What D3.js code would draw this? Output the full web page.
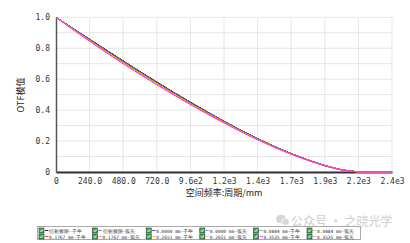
<!DOCTYPE html>
<html><head><meta charset="utf-8">
<script src="https://d3js.org/d3.v7.min.js"></script>
<style>body{margin:0;background:#fff}svg{display:block}</style>
</head><body>
<script>
const freqs = [0,120,240,360,480,600,720,840,960,1080,1200,1320,1440,1560,1680,1800,1920,2040,2160,2280,2400];
const diffT = [1,.929,.858,.788,.718,.649,.582,.515,.451,.389,.328,.270,.216,.165,.119,.078,.042,.014,0,0,0];
const diffS = [1,.929,.858,.788,.718,.649,.582,.515,.451,.389,.328,.270,.216,.165,.119,.078,.042,.014,0,0,0];
const f1T = [1,.928,.857,.786,.716,.647,.580,.513,.449,.387,.327,.269,.215,.165,.118,.077,.041,.014,0,0,0];
const f1S = [1,.928,.857,.786,.716,.647,.580,.513,.449,.387,.327,.269,.215,.165,.118,.077,.041,.014,0,0,0];
const f2T = [1,.927,.855,.784,.714,.645,.578,.511,.447,.385,.325,.268,.214,.164,.118,.077,.041,.014,0,0,0];
const f2S = [1,.927,.856,.785,.715,.646,.579,.512,.448,.386,.326,.268,.214,.164,.118,.077,.041,.014,0,0,0];
const f3T = [1,.926,.853,.781,.711,.642,.575,.509,.445,.383,.323,.266,.213,.163,.117,.076,.041,.014,0,0,0];
const f3S = [1,.926,.854,.782,.712,.643,.576,.510,.446,.384,.324,.267,.213,.163,.117,.076,.041,.014,0,0,0];
const f4T = [1,.924,.850,.777,.707,.638,.571,.505,.441,.380,.321,.264,.211,.161,.116,.076,.040,.013,0,0,0];
const f4S = [1,.925,.851,.779,.709,.640,.573,.507,.443,.382,.322,.265,.212,.162,.116,.076,.040,.013,0,0,0];
const f5T = [1,.921,.845,.771,.700,.631,.564,.499,.436,.375,.317,.261,.208,.159,.115,.075,.040,.013,0,0,0];
const f5S = [1,.922,.847,.773,.702,.633,.566,.501,.438,.377,.318,.262,.209,.160,.115,.075,.040,.013,0,0,0];
const legendLabels = ["衍射极限-子午","衍射极限-弧矢","0.0000 mm-子午","0.0000 mm-弧矢","0.0884 mm-子午","0.0884 mm-弧矢",
  "0.1767 mm-子午","0.1767 mm-弧矢","0.2651 mm-子午","0.2651 mm-弧矢","0.3535 mm-子午","0.3535 mm-弧矢"];
const seriesColors = ["#000000","#000000","#2020ff","#2020ff","#20c020","#20c020","#e02020","#e02020","#e0c000","#e0c000","#ff30ff","#ff30ff"];
const seriesDashed = [false,true,false,true,false,true,false,true,false,true,false,true];
const seriesValues = [diffT,diffS,f1T,f1S,f2T,f2S,f3T,f3S,f4T,f4S,f5T,f5S];
const xTicks = [0,240,480,720,960,1200,1440,1680,1920,2160,2400];
const xTickLabels = ["0","240.0","480.0","720.0","9.6e2","1.2e3","1.4e3","1.7e3","1.9e3","2.2e3","2.4e3"];
const yTicks = [0,0.2,0.4,0.6,0.8,1.0];
const yTickLabels = ["0","0.2","0.4","0.6","0.8","1.0"];
const yGrid = [0,0.1,0.2,0.3,0.4,0.5,0.6,0.7,0.8,0.9,1.0];

const W=410,H=243;
const svg=d3.select("body").append("svg").attr("width",W).attr("height",H);
const x=d3.scaleLinear().domain([0,2400]).range([56,392]);
const y=d3.scaleLinear().domain([0,1]).range([172,17.3]);
const mono="'DejaVu Sans Mono','Liberation Mono',monospace";

// grid
svg.append("g").selectAll("line").data(yGrid).join("line")
  .attr("x1",56).attr("x2",392).attr("y1",d=>y(d)).attr("y2",d=>y(d))
  .attr("stroke","#e6e6e6").attr("stroke-width",1);
svg.append("g").selectAll("line").data(xTicks.slice(1)).join("line")
  .attr("x1",d=>x(d)).attr("x2",d=>x(d)).attr("y1",17.3).attr("y2",172)
  .attr("stroke","#e6e6e6").attr("stroke-width",1);

// axes
const xAxis=svg.append("g").attr("transform","translate(0,172)")
  .call(d3.axisBottom(x).tickValues(xTicks).tickSize(0).tickPadding(6).tickFormat((d,i)=>xTickLabels[i]));
xAxis.select(".domain").attr("stroke","#333").attr("stroke-width",2);
xAxis.selectAll("text").attr("font-family",mono).attr("font-size",8).attr("fill","#333");
const yAxis=svg.append("g").attr("transform","translate(56,0)")
  .call(d3.axisLeft(y).tickValues(yTicks).tickSize(0).tickPadding(6).tickFormat((d,i)=>yTickLabels[i]));
yAxis.select(".domain").attr("stroke","#555").attr("stroke-width",1.5);
yAxis.selectAll("text").attr("font-family",mono).attr("font-size",8).attr("fill","#333");

// curves
const line=d3.line().x((d,i)=>x(freqs[i])).y(d=>y(d));
svg.append("g").selectAll("path").data(seriesValues).join("path")
  .attr("d",d=>line(d)).attr("fill","none")
  .attr("stroke",(d,i)=>seriesColors[i]).attr("stroke-width",1)
  .attr("stroke-dasharray",(d,i)=>seriesDashed[i]?"3,2":null);

// axis titles
svg.append("text").attr("x",224).attr("y",196).attr("text-anchor","middle")
  .attr("font-family","'Noto Sans CJK SC',sans-serif").attr("font-size",9).attr("fill","#222").text("空间频率:周期/mm");
svg.append("text").attr("transform","translate(24,95) rotate(-90)").attr("text-anchor","middle")
  .attr("font-family","'Noto Sans CJK SC',sans-serif").attr("font-size",9).attr("fill","#222").text("OTF模值");

// watermark
const wm=svg.append("g").attr("opacity",0.6);
wm.append("ellipse").attr("cx",281).attr("cy",219).attr("rx",5).attr("ry",4.2).attr("fill","#bbb");
wm.append("ellipse").attr("cx",285.5).attr("cy",222).attr("rx",4).attr("ry",3.4).attr("fill","#bbb").attr("stroke","#fff").attr("stroke-width",0.8);
wm.append("text").attr("x",291).attr("y",225.5).attr("font-family","'Noto Sans CJK SC',sans-serif")
  .attr("font-size",12).attr("fill","#aaa").text("公众号 · 之晓光学");

// legend
const lg=svg.append("g");
lg.append("rect").attr("x",37.5).attr("y",226.5).attr("width",323).attr("height",13)
  .attr("fill","#fff").attr("fill-opacity",0).attr("stroke","#aaa").attr("stroke-width",1);
const ent=lg.selectAll("g.e").data(legendLabels).join("g").attr("class","e")
  .attr("transform",(d,i)=>`translate(${39+(i%6)*53.6},${i<6?228:234})`);
ent.append("rect").attr("width",5).attr("height",5).attr("fill","#4caf50").attr("stroke","#224").attr("stroke-width",0.6);
ent.append("path").attr("d","M1,2.6 L2.2,3.8 L4,1.2").attr("fill","none").attr("stroke","#fff").attr("stroke-width",0.8);
ent.append("line").attr("x1",6).attr("x2",9.5).attr("y1",2.5).attr("y2",2.5)
  .attr("stroke",(d,i)=>seriesColors[i]).attr("stroke-width",0.8)
  .attr("stroke-dasharray",(d,i)=>seriesDashed[i]?"1,0.7":null);
ent.append("text").attr("x",10).attr("y",4.5).attr("font-family",mono).attr("font-size",4.5)
  .attr("fill","#333").text(d=>d);
</script>
</body></html>
